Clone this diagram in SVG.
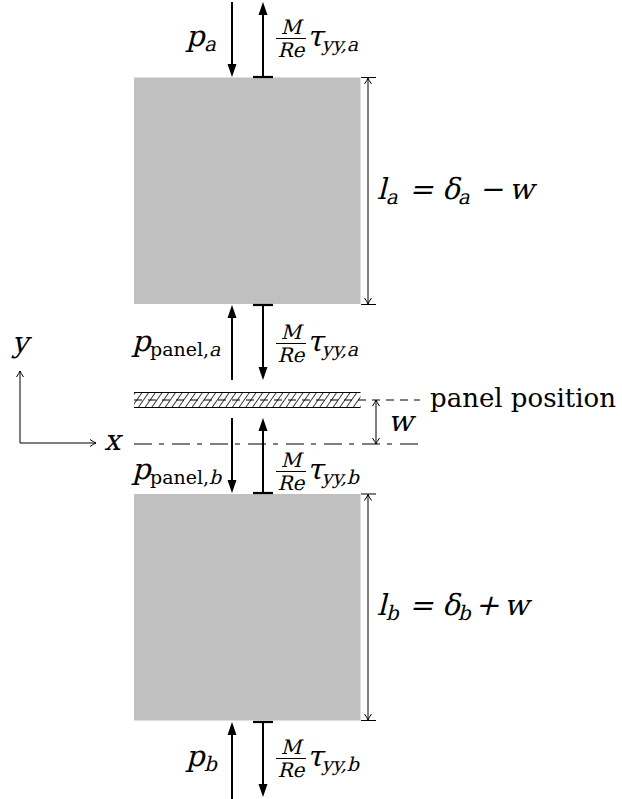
<svg xmlns="http://www.w3.org/2000/svg" width="622" height="799" viewBox="0 0 622 799">
<style>
text{font-family:"DejaVu Serif",serif;fill:#000;font-style:normal}
.m{font-size:29px}
.t{font-size:26px}
.s{font-size:20px}
.sp{font-size:19px}
.block{fill:#c0c0c0}
.force{stroke:#000;stroke-width:2;fill:none;marker-end:url(#head)}
.bar{stroke:#000;stroke-width:2.2}
.thin{stroke:#000;stroke-width:1;fill:none}
.dim{stroke:#000;stroke-width:1;fill:none;marker-start:url(#tip);marker-end:url(#tip)}
.frac{stroke:#000;stroke-width:1}
</style>
<defs>
<marker id="head" markerUnits="userSpaceOnUse" markerWidth="16" markerHeight="12" viewBox="-2 -6 16 12" refX="3" refY="0" orient="auto">
<path d="M0,-4.5 L13,0 L0,4.5 Z" fill="#000"/>
</marker>
<marker id="tip" markerUnits="userSpaceOnUse" markerWidth="10" markerHeight="10" viewBox="-8 -5 10 10" refX="0" refY="0" orient="auto-start-reverse">
<path d="M-6,-3.5 Q-2,-0.8 0,0 Q-2,0.8 -6,3.5" fill="none" stroke="#000" stroke-width="1"/>
</marker>
<pattern id="hatch" patternUnits="userSpaceOnUse" width="5.5" height="6" patternTransform="rotate(35)">
<line x1="0" y1="0" x2="0" y2="6" stroke="#000" stroke-width="1.5"/>
</pattern>
</defs>

<g id="block-a"><rect class="block" x="134" y="77.5" width="226.5" height="226.5"/></g>
<g id="block-b"><rect class="block" x="134" y="494" width="226.5" height="226.5"/></g>
<g id="panel">
<rect x="134" y="392.5" width="226.5" height="15" fill="#fff"/>
<rect x="134" y="392.5" width="226.5" height="15" fill="url(#hatch)"/>
<line class="thin" x1="134" y1="392.5" x2="360.5" y2="392.5"/>
<line class="thin" x1="134" y1="407.5" x2="360.5" y2="407.5"/>
</g>

<g id="connectors">
<line class="force" x1="232" y1="2" x2="232" y2="67"/>
<line class="force" x1="263" y1="77" x2="263" y2="12"/>
<line class="bar" x1="253" y1="77" x2="273" y2="77"/>
<line class="force" x1="232" y1="380" x2="232" y2="315"/>
<line class="force" x1="263" y1="305" x2="263" y2="370"/>
<line class="bar" x1="253" y1="305" x2="273" y2="305"/>
<line class="force" x1="232" y1="418" x2="232" y2="483"/>
<line class="force" x1="263" y1="493" x2="263" y2="428"/>
<line class="bar" x1="253" y1="493" x2="273" y2="493"/>
<line class="force" x1="232" y1="799" x2="232" y2="732"/>
<line class="force" x1="263" y1="722" x2="263" y2="787"/>
<line class="bar" x1="253" y1="722" x2="273" y2="722"/>
<line class="dim" x1="368" y1="78" x2="368" y2="304"/>
<line class="thin" x1="361" y1="77.5" x2="376" y2="77.5"/>
<line class="thin" x1="361" y1="304.5" x2="376" y2="304.5"/>
<line class="dim" x1="368" y1="494.5" x2="368" y2="720"/>
<line class="thin" x1="361" y1="494" x2="376" y2="494"/>
<line class="thin" x1="361" y1="720.5" x2="376" y2="720.5"/>
<line class="dim" x1="376" y1="400" x2="376" y2="444"/>
<line class="thin" x1="134" y1="400" x2="420" y2="400" stroke-dasharray="8 6"/>
<line class="thin" x1="134" y1="444" x2="420" y2="444" stroke-dasharray="18 7 5 8"/>
<polyline class="thin" points="20,371 20,443 96,443" style="marker-start:url(#tip);marker-end:url(#tip)"/>
</g>

<g id="labels">
<!-- top -->
<text class="m" transform="translate(186,46) skewX(-14)">p</text>
<text class="s" transform="translate(204,51) skewX(-14)">a</text>
<text class="s" transform="translate(291,34) skewX(-14)" text-anchor="middle">M</text>
<line class="frac" x1="276" y1="38.5" x2="306" y2="38.5"/>
<text class="s" transform="translate(291,57) skewX(-14)" text-anchor="middle">Re</text>
<text class="m" transform="translate(307,46) skewX(-14)">τ<tspan class="sp" dy="5">yy,a</tspan></text>
<!-- middle a -->
<text class="m" transform="translate(132,351) skewX(-14)">p</text>
<text class="sp" x="150" y="356">panel,</text>
<text class="sp" transform="translate(209,356) skewX(-14)">a</text>
<text class="s" transform="translate(291,339) skewX(-14)" text-anchor="middle">M</text>
<line class="frac" x1="276" y1="343.5" x2="306" y2="343.5"/>
<text class="s" transform="translate(291,362) skewX(-14)" text-anchor="middle">Re</text>
<text class="m" transform="translate(307,351) skewX(-14)">τ<tspan class="sp" dy="5">yy,a</tspan></text>
<!-- middle b -->
<text class="m" transform="translate(132,479) skewX(-14)">p</text>
<text class="sp" x="150" y="484">panel,</text>
<text class="sp" transform="translate(209,484) skewX(-14)">b</text>
<text class="s" transform="translate(291,467) skewX(-14)" text-anchor="middle">M</text>
<line class="frac" x1="276" y1="471.5" x2="306" y2="471.5"/>
<text class="s" transform="translate(291,490) skewX(-14)" text-anchor="middle">Re</text>
<text class="m" transform="translate(307,479) skewX(-14)">τ<tspan class="sp" dy="5">yy,b</tspan></text>
<!-- bottom -->
<text class="m" transform="translate(186,766) skewX(-14)">p</text>
<text class="s" transform="translate(204,771) skewX(-14)">b</text>
<text class="s" transform="translate(291,754) skewX(-14)" text-anchor="middle">M</text>
<line class="frac" x1="276" y1="758.5" x2="306" y2="758.5"/>
<text class="s" transform="translate(291,777) skewX(-14)" text-anchor="middle">Re</text>
<text class="m" transform="translate(307,766) skewX(-14)">τ<tspan class="sp" dy="5">yy,b</tspan></text>
<!-- dimension labels -->
<text class="m" transform="translate(377,199) skewX(-14)"><tspan x="0">l</tspan><tspan class="s" x="10" dy="5">a</tspan><tspan x="32" dy="-5">=</tspan><tspan x="65">δ</tspan><tspan class="s" x="82" dy="5">a</tspan><tspan x="102" dy="-5">−</tspan><tspan x="132">w</tspan></text>
<text class="m" transform="translate(377,615) skewX(-14)"><tspan x="0">l</tspan><tspan class="s" x="10" dy="5">b</tspan><tspan x="32" dy="-5">=</tspan><tspan x="65">δ</tspan><tspan class="s" x="82" dy="5">b</tspan><tspan x="98" dy="-5">+</tspan><tspan x="127">w</tspan></text>
<text class="m" transform="translate(388,431) skewX(-14)">w</text>
<text class="t" x="430" y="407">panel position</text>
<text class="m" transform="translate(12,352) skewX(-14)">y</text>
<text class="m" transform="translate(104,450) skewX(-14)">x</text>
</g>
</svg>
